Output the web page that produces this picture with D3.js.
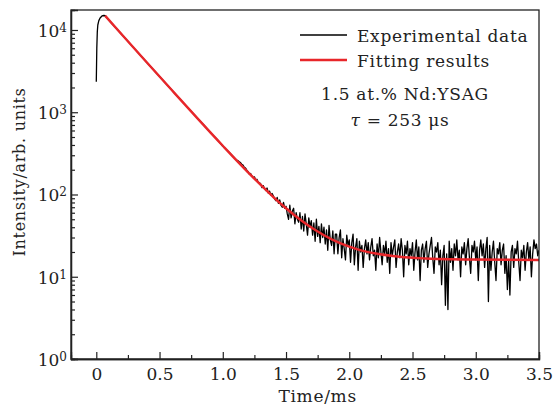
<!DOCTYPE html>
<html lang="en">
<head>
<meta charset="UTF-8">
<title>Nd:YSAG decay</title>
<script src="https://d3js.org/d3.v7.min.js"></script>
<style>
  body { margin: 0; background: #fff; }
  text { font-family: "DejaVu Serif", serif; fill: #222; }
  .lbl { letter-spacing: 0.7px; }
</style>
</head>
<body>
<svg id="chart" width="553" height="411"></svg>
<script>
// rise + clean decay (ms, counts)
var headTime = [0, 0.004, 0.008, 0.012, 0.02, 0.03, 0.045, 0.06, 0.07, 0.1, 0.2, 0.3, 0.4, 0.5, 0.6, 0.7, 0.8, 0.85, 0.9, 0.95, 1.0, 1.05];
var headValue = [2350, 6000, 9500, 11500, 13000, 14000, 14800, 15000, 14900, 13150, 8870, 5980, 4030, 2720, 1840, 1245, 845, 700, 568, 478, 386, 326];

// noisy tail, sampled every 0.01 ms from 1.10 ms
var tailStart = 1.10, tailStep = 0.01;
var tailValue = [
  270, 262, 258, 250, 245, 232, 228, 214, 210, 198,
  190, 176, 180, 168, 160, 164, 150, 153, 141, 139,
  134, 121, 128, 118, 112, 120, 104, 110, 98, 103,
  96, 88, 84, 92, 78, 86, 74, 70, 80, 68,
  72, 58, 50, 74, 52, 63, 68, 44, 60, 50,
  46, 60, 38, 54, 36, 58, 44, 32, 52, 40,
  48, 32, 45, 27, 50, 31, 41, 26, 44, 30,
  40, 25, 37, 21, 42, 28, 24, 36, 19, 33,
  33, 19, 30, 37, 17, 29, 22, 16, 32, 24,
  28, 15, 26, 33, 14, 23, 29, 12, 27, 20,
  24, 13, 22, 28, 19, 26, 16, 23, 29, 18,
  21, 12, 25, 17, 30, 20, 14, 24, 19, 27,
  15, 22, 11, 26, 18, 23, 28, 13, 20, 25,
  17, 29, 21, 10, 24, 19, 27, 14, 22, 18,
  26, 12, 20, 28, 16, 23, 9, 21, 25, 15,
  22, 27, 13, 19, 24, 30, 17, 11, 23, 20,
  26, 14, 21, 8, 18, 24, 4.5, 19, 4, 27,
  15, 22, 12, 25, 18, 28, 16, 21, 10, 23,
  19, 26, 14, 22, 29, 17, 11, 24, 20, 27,
  16, 23, 9, 21, 28, 18, 25, 13, 22, 30,
  5, 24, 12, 20, 27, 15, 9, 22, 19, 26,
  14, 21, 25, 11, 18, 7, 16, 6, 20, 24,
  13, 22, 19, 27, 15, 9, 21, 17, 24, 12,
  20, 26, 16, 23, 10, 19, 28, 22, 25, 18, 21
];

// fitted single exponential
var fitTime = [0.07, 0.2, 0.4, 0.6, 0.8, 1.0, 1.2, 1.3, 1.4, 1.5, 1.6, 1.7, 1.8, 1.9, 2.0, 2.1, 2.2, 2.4, 2.6, 2.8, 3.0, 3.5];
var fitValue = [14900, 8870, 4030, 1837, 842, 391, 186, 131, 93, 68, 51, 39.6, 32, 26.7, 23.2, 20.8, 19.3, 17.5, 16.7, 16.3, 16.2, 16];

var xTicks = [0, 0.5, 1.0, 1.5, 2.0, 2.5, 3.0, 3.5];
var xTickLabels = ["0", "0.5", "1.0", "1.5", "2.0", "2.5", "3.0", "3.5"];
var yTicks = [1, 10, 100, 1000, 10000];
var yExponents = ["0", "1", "2", "3", "4"];

var margin = { left: 71, right: 14, top: 10, bottom: 52 };
var width = 553, height = 411;
var plotW = width - margin.left - margin.right;
var plotH = height - margin.top - margin.bottom;

var svg = d3.select("#chart");
var g = svg.append("g").attr("transform", "translate(" + margin.left + "," + margin.top + ")");

var x = d3.scaleLinear().domain([-0.2, 3.5]).range([0, plotW]);
var y = d3.scaleLog().domain([1, Math.pow(10, 4.243)]).range([plotH, 0]);

// build experimental series
var expData = [];
for (var i = 0; i < headTime.length; i++) expData.push([headTime[i], headValue[i]]);
for (var j = 0; j < tailValue.length; j++) expData.push([tailStart + j * tailStep, tailValue[j]]);
var fitData = fitTime.map(function (t, i) { return [t, fitValue[i]]; });

var clipId = "plotclip";
g.append("clipPath").attr("id", clipId).append("rect").attr("width", plotW).attr("height", plotH);

var line = d3.line().x(function (d) { return x(d[0]); }).y(function (d) { return y(d[1]); });

g.append("path").datum(expData)
  .attr("clip-path", "url(#" + clipId + ")")
  .attr("fill", "none").attr("stroke", "#000").attr("stroke-width", 1.3)
  .attr("stroke-linejoin", "round")
  .attr("d", line);

g.append("path").datum(fitData)
  .attr("clip-path", "url(#" + clipId + ")")
  .attr("fill", "none").attr("stroke", "#e8262a").attr("stroke-width", 2.4)
  .attr("d", line.curve(d3.curveMonotoneX));

// x axis: major + minor ticks pointing inward
var xMinor = xTicks.slice(0, -1).map(function (t) { return t + 0.25; });
var xAxis = g.append("g").attr("transform", "translate(0," + plotH + ")");
xAxis.call(d3.axisBottom(x).tickValues(xMinor).tickSize(-4).tickFormat(""));
xAxis.append("g").call(d3.axisBottom(x).tickValues(xTicks).tickSize(-7)
  .tickFormat(function (d, i) { return xTickLabels[i]; }));
xAxis.selectAll("text").attr("dy", 0).attr("y", 21).style("font-size", "17px");

// y axis
var yMinor = [];
yTicks.forEach(function (t) { for (var k = 2; k <= 9; k++) if (t * k <= y.domain()[1]) yMinor.push(t * k); });
var yAxis = g.append("g");
yAxis.call(d3.axisLeft(y).tickValues(yMinor).tickSize(-4).tickFormat(""));
var yMaj = yAxis.append("g").call(d3.axisLeft(y).tickValues(yTicks).tickSize(-7).tickFormat(""));
yMaj.selectAll(".tick").append("text")
  .attr("x", -4).attr("y", 6.5).attr("text-anchor", "end")
  .style("font-size", "17px")
  .each(function (d, i) {
    var t = d3.select(this);
    t.append("tspan").text("10");
    t.append("tspan").attr("dy", -5).style("font-size", "12px").text(yExponents[i]);
  });

svg.selectAll(".domain").attr("stroke", "#222").attr("stroke-width", 1.3);
svg.selectAll(".tick line").attr("stroke", "#222").attr("stroke-width", 1.2);

// frame
g.append("rect").attr("width", plotW).attr("height", plotH)
  .attr("fill", "none").attr("stroke", "#222").attr("stroke-width", 1.3);

// axis titles
svg.append("text").attr("class", "lbl").attr("x", margin.left + x(1.75)).attr("y", 402)
  .attr("text-anchor", "middle").style("font-size", "17px").text("Time/ms");
svg.append("text").attr("class", "lbl").attr("transform", "translate(25,172) rotate(-90)")
  .attr("text-anchor", "middle").style("font-size", "16px").text("Intensity/arb. units");

// legend
var legend = svg.append("g");
var legendItems = [["Experimental data", "#000", 1.3], ["Fitting results", "#e8262a", 2.4]];
legendItems.forEach(function (it, i) {
  var ly = 35 + i * 25;
  legend.append("line").attr("x1", 300).attr("x2", 347).attr("y1", ly).attr("y2", ly)
    .attr("stroke", it[1]).attr("stroke-width", it[2]);
  legend.append("text").attr("class", "lbl").attr("x", 357).attr("y", ly + 7)
    .style("font-size", "17px").text(it[0]);
});
legend.append("text").attr("class", "lbl").attr("x", 405).attr("y", 100).attr("text-anchor", "middle")
  .style("font-size", "17px").text("1.5 at.% Nd:YSAG");
var tau = legend.append("text").attr("class", "lbl").attr("x", 400).attr("y", 126)
  .attr("text-anchor", "middle").style("font-size", "17px");
tau.append("tspan").style("font-style", "italic").text("τ");
tau.append("tspan").text(" = 253 μs");
</script>
</body>
</html>
